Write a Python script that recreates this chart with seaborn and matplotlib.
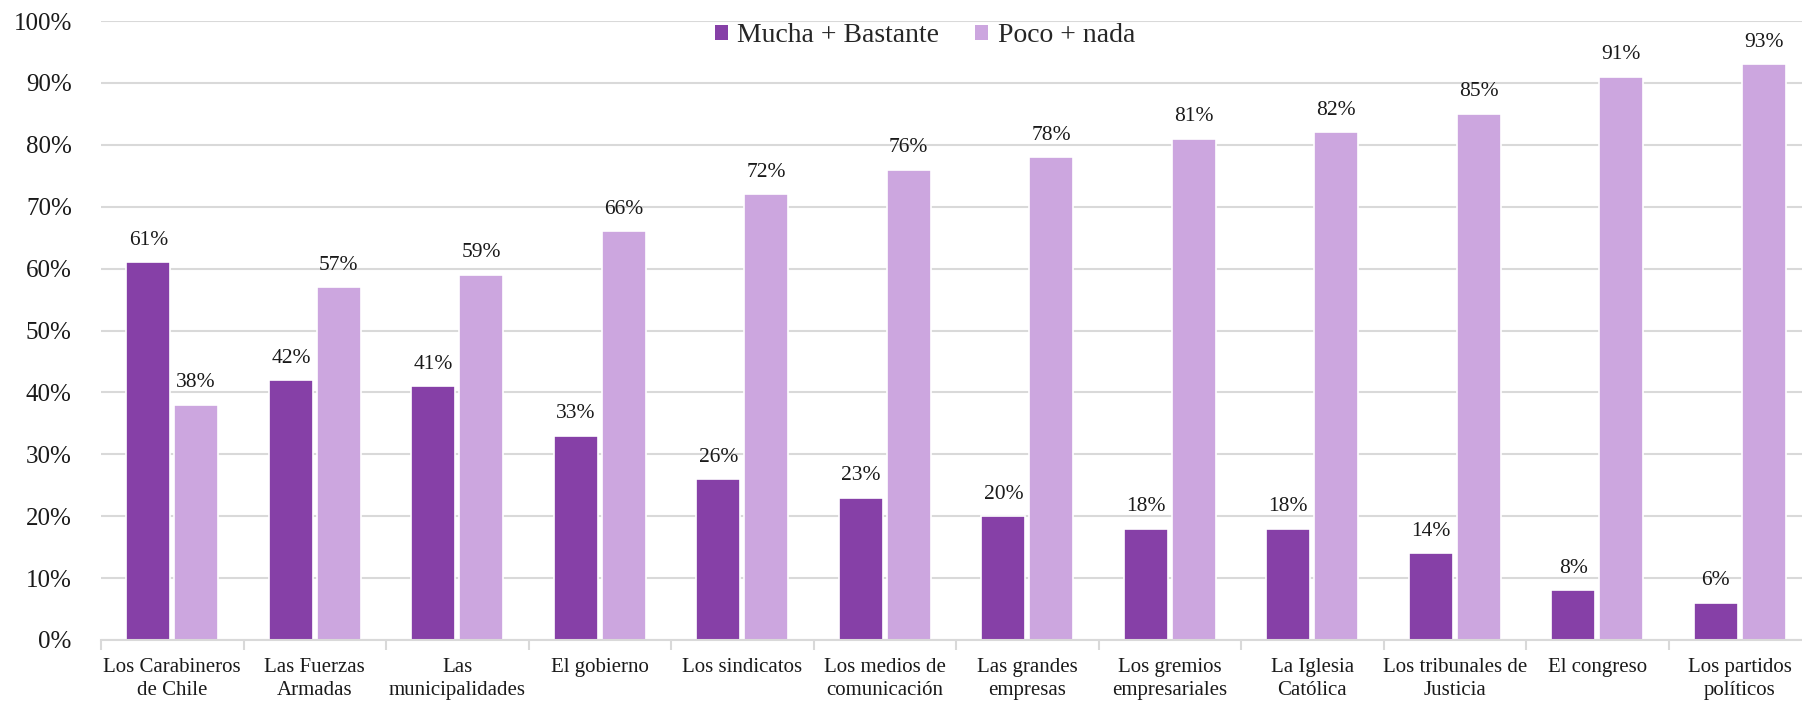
import matplotlib
matplotlib.use("Agg")
import matplotlib.pyplot as plt
from matplotlib.patches import Patch
from matplotlib.ticker import FixedLocator, FuncFormatter
import seaborn as sns
import pandas as pd

# Confianza en instituciones (%)
instituciones = [
    "Los Carabineros\nde Chile", "Las Fuerzas\nArmadas", "Las\nmunicipalidades",
    "El gobierno", "Los sindicatos", "Los medios de\ncomunicación",
    "Las grandes\nempresas", "Los gremios\nempresariales", "La Iglesia\nCatólica",
    "Los tribunales de\nJusticia", "El congreso", "Los partidos\npolíticos",
]
mucha_bastante = [61, 42, 41, 33, 26, 23, 20, 18, 18, 14, 8, 6]
poco_nada = [38, 57, 59, 66, 72, 76, 78, 81, 82, 85, 91, 93]
series = ["Mucha + Bastante", "Poco + nada"]
colores = ["#8640A7", "#CCA6DF"]
y_ticks = list(range(0, 101, 10))

df = pd.DataFrame({
    "institucion": instituciones * 2,
    "serie": [series[0]] * len(instituciones) + [series[1]] * len(instituciones),
    "valor": mucha_bastante + poco_nada,
})

sns.set_theme(style="white")
plt.rcParams["font.family"] = ["Liberation Serif", "DejaVu Serif"]

fig = plt.figure(figsize=(18.02, 7.04), dpi=100)
ax = fig.add_axes([101 / 1802, 64 / 704, 1710 / 1802, 619 / 704])

sns.barplot(
    data=df, x="institucion", y="valor", hue="serie",
    order=instituciones, hue_order=series, palette=colores, saturation=1,
    width=0.67, gap=0.08, edgecolor="white", linewidth=1.2,
    errorbar=None, ax=ax, legend=False,
)

for cont in ax.containers:
    ax.bar_label(cont, fmt="%.0f%%", padding=9, fontsize=15.5, color="#1a1a1a")

ax.set_ylim(0, 100)
ax.set_xlim(-0.5, len(instituciones) - 0.5)
ax.set_yticks(y_ticks)
ax.yaxis.set_major_formatter(FuncFormatter(lambda v, _: f"{v:.0f}%"))
ax.grid(axis="y", color="#D9D9D9", linewidth=1.5)
ax.set_axisbelow(True)

for side in ["top", "right", "left"]:
    ax.spines[side].set_visible(False)
ax.spines["bottom"].set_color("#D9D9D9")
ax.spines["bottom"].set_linewidth(1.5)

ax.set_xlabel("")
ax.set_ylabel("")
ax.tick_params(axis="y", length=0, pad=21, labelsize=18, labelcolor="#1a1a1a")
ax.tick_params(axis="x", which="major", length=0, pad=13, labelsize=15, labelcolor="#1a1a1a")
ax.xaxis.set_minor_locator(FixedLocator([i - 0.5 for i in range(len(instituciones) + 1)]))
ax.tick_params(axis="x", which="minor", length=7, width=1.5, color="#D9D9D9", bottom=True)
for lbl in ax.get_xticklabels():
    lbl.set_linespacing(1.3)

handles = [Patch(facecolor=c, edgecolor="none") for c in colores]
fig.legend(
    handles, series, loc="center", bbox_to_anchor=(925 / 1802, 1 - 36 / 704),
    ncol=2, frameon=False, fontsize=20, handlelength=0.45, handleheight=0.45,
    handletextpad=0.35, columnspacing=1.3,
)

fig.savefig("out.png", dpi=100)
